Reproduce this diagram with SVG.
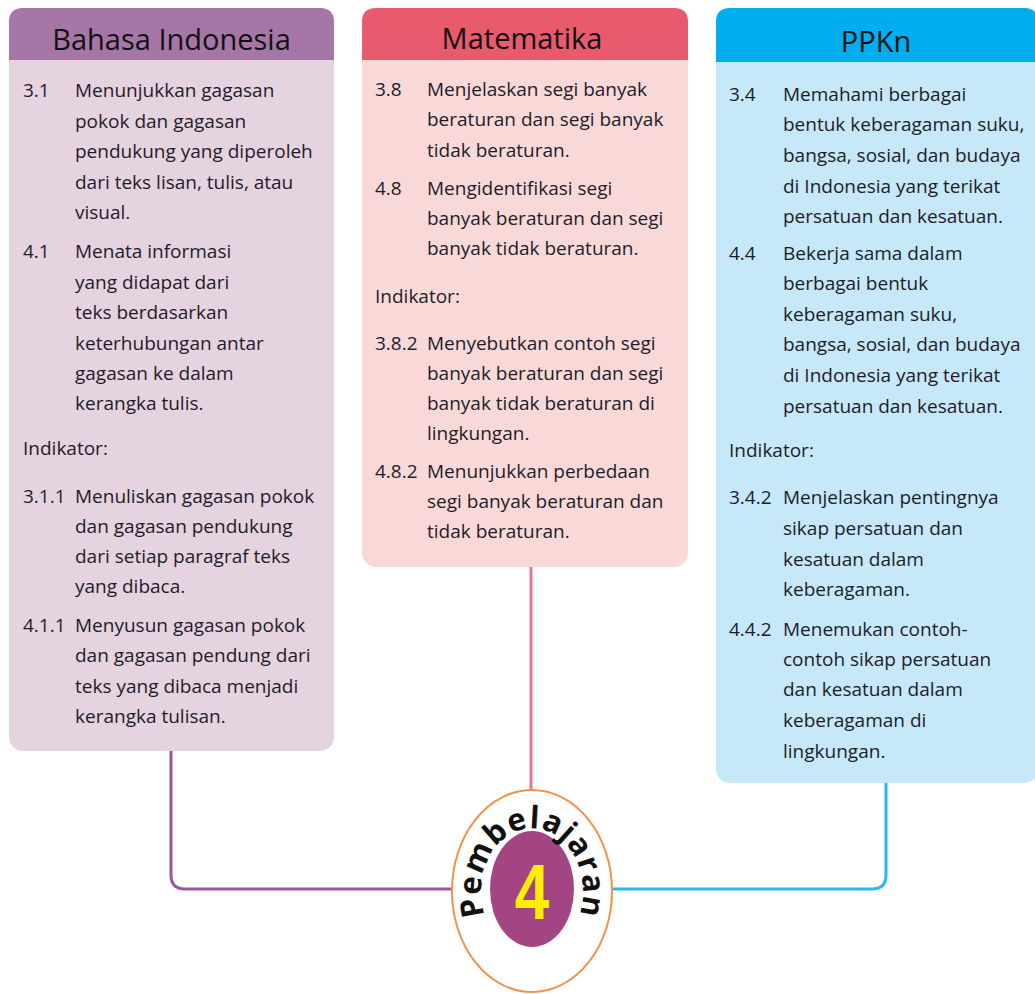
<svg xmlns="http://www.w3.org/2000/svg" width="1035" height="994" viewBox="0 0 1035 994">
<style>
.t{font-family:"Open Sans","Noto Sans",sans-serif;font-size:19px;fill:#1e1c2a}
.h{font-family:"Open Sans","Noto Sans",sans-serif;font-size:29px;font-weight:500;fill:#111;text-anchor:middle}
.c{fill:none;stroke-width:3;stroke-linecap:round}
</style>
<defs>
<path id="arc" d="M487,921 A51,63 0 1 1 577,921"/>
</defs>
<rect width="1035" height="994" fill="#fff"/>
<g id="connectors">
<path class="c" stroke="#9b559b" d="M171,751 V875 Q171,889 185,889 H453"/>
<path class="c" stroke="#e5778f" d="M531,567 V790"/>
<path class="c" stroke="#2bb8f0" d="M886,783 V875 Q886,889 872,889 H612"/>
</g>
<g id="bahasa-indonesia">
<rect x="9" y="8" width="325" height="743" rx="14" fill="#e6d3e0"/>
<path d="M9,60 V22 Q9,8 23,8 H320 Q334,8 334,22 V60 Z" fill="#a677a6"/>
<text class="h" x="171.5" y="50">Bahasa Indonesia</text>
<text class="t" x="23" y="97">3.1</text>
<text class="t" x="75" y="97">Menunjukkan gagasan</text>
<text class="t" x="75" y="128">pokok dan gagasan</text>
<text class="t" x="75" y="158">pendukung yang diperoleh</text>
<text class="t" x="75" y="189">dari teks lisan, tulis, atau</text>
<text class="t" x="75" y="219">visual.</text>
<text class="t" x="23" y="258">4.1</text>
<text class="t" x="75" y="258">Menata informasi</text>
<text class="t" x="75" y="289">yang didapat dari</text>
<text class="t" x="75" y="319">teks berdasarkan</text>
<text class="t" x="75" y="350">keterhubungan antar</text>
<text class="t" x="75" y="380">gagasan ke dalam</text>
<text class="t" x="75" y="410">kerangka tulis.</text>
<text class="t" x="23" y="455">Indikator:</text>
<text class="t" x="23" y="503">3.1.1</text>
<text class="t" x="75" y="503">Menuliskan gagasan pokok</text>
<text class="t" x="75" y="533">dan gagasan pendukung</text>
<text class="t" x="75" y="563">dari setiap paragraf teks</text>
<text class="t" x="75" y="593">yang dibaca.</text>
<text class="t" x="23" y="632">4.1.1</text>
<text class="t" x="75" y="632">Menyusun gagasan pokok</text>
<text class="t" x="75" y="662">dan gagasan pendung dari</text>
<text class="t" x="75" y="693">teks yang dibaca menjadi</text>
<text class="t" x="75" y="723">kerangka tulisan.</text>
</g>
<g id="matematika">
<rect x="362" y="8" width="326" height="559" rx="14" fill="#f9d9d8"/>
<path d="M362,60 V22 Q362,8 376,8 H674 Q688,8 688,22 V60 Z" fill="#e85a6e"/>
<text class="h" x="522" y="49">Matematika</text>
<text class="t" x="375" y="96">3.8</text>
<text class="t" x="427" y="96">Menjelaskan segi banyak</text>
<text class="t" x="427" y="126">beraturan dan segi banyak</text>
<text class="t" x="427" y="157">tidak beraturan.</text>
<text class="t" x="375" y="195">4.8</text>
<text class="t" x="427" y="195">Mengidentifikasi segi</text>
<text class="t" x="427" y="225">banyak beraturan dan segi</text>
<text class="t" x="427" y="255">banyak tidak beraturan.</text>
<text class="t" x="375" y="303">Indikator:</text>
<text class="t" x="375" y="350">3.8.2</text>
<text class="t" x="427" y="350">Menyebutkan contoh segi</text>
<text class="t" x="427" y="380">banyak beraturan dan segi</text>
<text class="t" x="427" y="410">banyak tidak beraturan di</text>
<text class="t" x="427" y="440">lingkungan.</text>
<text class="t" x="375" y="478">4.8.2</text>
<text class="t" x="427" y="478">Menunjukkan perbedaan</text>
<text class="t" x="427" y="508">segi banyak beraturan dan</text>
<text class="t" x="427" y="538">tidak beraturan.</text>
</g>
<g id="ppkn">
<rect x="716" y="8" width="322" height="775" rx="14" fill="#c6e8f8"/>
<path d="M716,62 V22 Q716,8 730,8 H1024 Q1038,8 1038,22 V62 Z" fill="#00adee"/>
<text class="h" x="876" y="52">PPKn</text>
<text class="t" x="729" y="101">3.4</text>
<text class="t" x="783" y="101">Memahami berbagai</text>
<text class="t" x="783" y="131">bentuk keberagaman suku,</text>
<text class="t" x="783" y="162">bangsa, sosial, dan budaya</text>
<text class="t" x="783" y="193">di Indonesia yang terikat</text>
<text class="t" x="783" y="223">persatuan dan kesatuan.</text>
<text class="t" x="729" y="260">4.4</text>
<text class="t" x="783" y="260">Bekerja sama dalam</text>
<text class="t" x="783" y="290">berbagai bentuk</text>
<text class="t" x="783" y="321">keberagaman suku,</text>
<text class="t" x="783" y="351">bangsa, sosial, dan budaya</text>
<text class="t" x="783" y="382">di Indonesia yang terikat</text>
<text class="t" x="783" y="413">persatuan dan kesatuan.</text>
<text class="t" x="729" y="457">Indikator:</text>
<text class="t" x="729" y="504">3.4.2</text>
<text class="t" x="783" y="504">Menjelaskan pentingnya</text>
<text class="t" x="783" y="535">sikap persatuan dan</text>
<text class="t" x="783" y="566">kesatuan dalam</text>
<text class="t" x="783" y="596">keberagaman.</text>
<text class="t" x="729" y="636">4.4.2</text>
<text class="t" x="783" y="636">Menemukan contoh-</text>
<text class="t" x="783" y="666">contoh sikap persatuan</text>
<text class="t" x="783" y="696">dan kesatuan dalam</text>
<text class="t" x="783" y="727">keberagaman di</text>
<text class="t" x="783" y="758">lingkungan.</text>
</g>
<g id="pembelajaran-4">
<ellipse cx="532" cy="891" rx="80" ry="101" fill="#fff" stroke="#f4914a" stroke-width="2"/>
<ellipse cx="532" cy="889" rx="42" ry="58" fill="#a34583"/>
<text x="532" y="919" transform="translate(532 0) scale(0.8 1) translate(-532 0)" font-family="Liberation Sans, Arial, sans-serif" font-weight="bold" font-size="78" fill="#ffee00" text-anchor="middle">4</text>
<text font-family="Open Sans, sans-serif" font-weight="bold" font-size="31" letter-spacing="1" fill="#111"><textPath href="#arc" startOffset="50%" text-anchor="middle">Pembelajaran</textPath></text>
</g>
</svg>
